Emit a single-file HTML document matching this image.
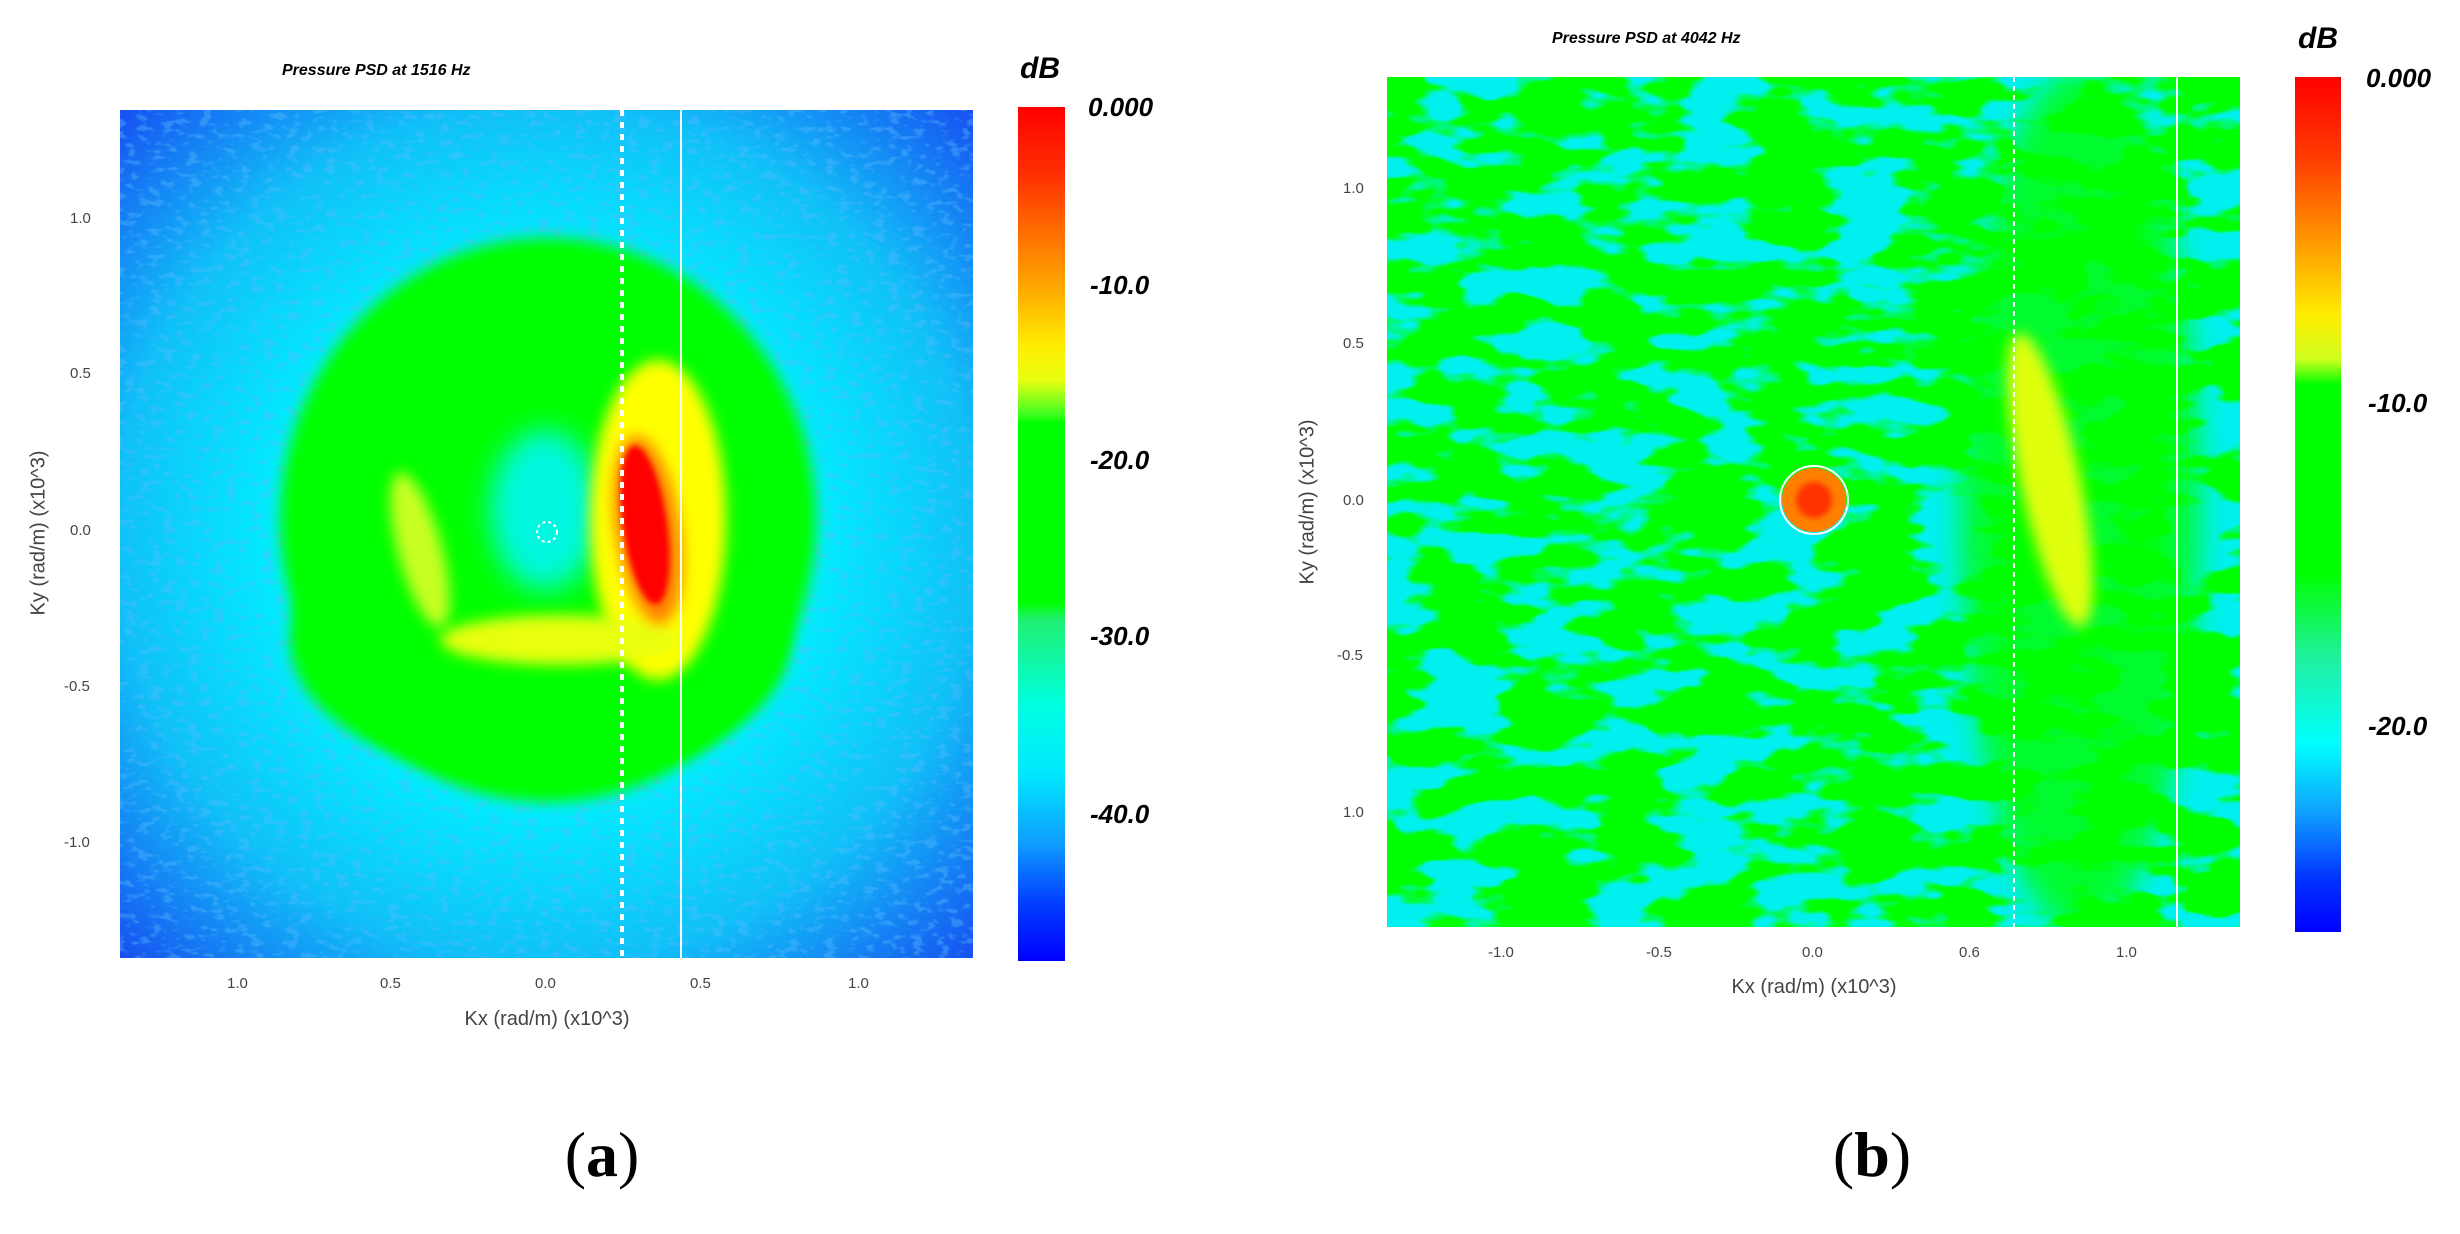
<!DOCTYPE html>
<html><head><meta charset="utf-8"><style>
html,body{margin:0;padding:0;background:#fff;}
body{width:2460px;height:1234px;position:relative;overflow:hidden;font-family:"Liberation Sans",sans-serif;}
.t{position:absolute;white-space:nowrap;}
</style></head><body>
<svg width="2460" height="1234" style="position:absolute;left:0;top:0">
<defs>
<radialGradient id="bgA" cx="0.5" cy="0.5" r="0.72">
<stop offset="0.42" stop-color="#00f0ff"/><stop offset="0.7" stop-color="#10c0f8"/><stop offset="1" stop-color="#1848f0"/></radialGradient>
<filter id="b20" x="-30%" y="-30%" width="160%" height="160%"><feGaussianBlur stdDeviation="14"/></filter>
<filter id="b8" x="-30%" y="-30%" width="160%" height="160%"><feGaussianBlur stdDeviation="7"/></filter>
<filter id="b4" x="-30%" y="-30%" width="160%" height="160%"><feGaussianBlur stdDeviation="3"/></filter>
<filter id="mot" x="0" y="0" width="100%" height="100%">
<feTurbulence type="fractalNoise" baseFrequency="0.012 0.03" numOctaves="3" seed="4"/>
<feColorMatrix type="matrix" values="0 0 0 0 0  0 0 0 0 1  0 0 0 0 0  0 0 0 -9 5.3"/>
<feComposite in2="SourceGraphic" operator="in"/>
</filter>
<filter id="noise" x="0" y="0" width="100%" height="100%">
<feTurbulence type="fractalNoise" baseFrequency="0.08 0.15" numOctaves="2" seed="9"/>
<feColorMatrix type="matrix" values="0 0 0 0 0.1  0 0 0 0 0.5  0 0 0 0 1  0 0 0 -6 2.8"/>
<feComposite in2="SourceGraphic" operator="in"/>
</filter>
<linearGradient id="cbA" x1="0" y1="0" x2="0" y2="1">
<stop offset="0" stop-color="#ff0000"/><stop offset="0.08" stop-color="#ff3000"/><stop offset="0.15" stop-color="#ff7000"/><stop offset="0.22" stop-color="#ffb000"/><stop offset="0.28" stop-color="#ffee00"/><stop offset="0.32" stop-color="#e8ff10"/><stop offset="0.36" stop-color="#40ff20"/><stop offset="0.37" stop-color="#00ff00"/><stop offset="0.58" stop-color="#00ff00"/><stop offset="0.6" stop-color="#20f070"/><stop offset="0.7" stop-color="#00ffe0"/><stop offset="0.78" stop-color="#00e8ff"/><stop offset="0.86" stop-color="#10a0ff"/><stop offset="0.93" stop-color="#0040ff"/><stop offset="1" stop-color="#0000ff"/></linearGradient>
<linearGradient id="cbB" x1="0" y1="0" x2="0" y2="1">
<stop offset="0" stop-color="#ff0000"/><stop offset="0.1" stop-color="#ff4000"/><stop offset="0.2" stop-color="#ffa000"/><stop offset="0.28" stop-color="#ffee00"/><stop offset="0.33" stop-color="#d0ff20"/><stop offset="0.36" stop-color="#00ff00"/><stop offset="0.58" stop-color="#00ff00"/><stop offset="0.68" stop-color="#20f0a0"/><stop offset="0.78" stop-color="#00ffff"/><stop offset="0.86" stop-color="#10a0ff"/><stop offset="0.94" stop-color="#0030ff"/><stop offset="1" stop-color="#0000ff"/></linearGradient>
<clipPath id="cA"><rect x="120" y="110" width="853" height="848"/></clipPath>
<clipPath id="cB"><rect x="1387" y="77" width="853" height="850"/></clipPath>
</defs>
<!-- Panel A -->
<g clip-path="url(#cA)">
<rect x="120" y="110" width="853" height="848" fill="url(#bgA)"/>
<rect x="120" y="110" width="853" height="848" fill="#000" filter="url(#noise)" opacity="0.4"/>
<ellipse cx="548" cy="520" rx="268" ry="282" fill="#00ff00" filter="url(#b8)"/>
<ellipse cx="540" cy="640" rx="250" ry="140" fill="#00ff00" filter="url(#b8)"/>
<ellipse cx="545" cy="510" rx="55" ry="80" fill="#00f8e0" filter="url(#b20)"/>
<ellipse cx="658" cy="520" rx="68" ry="160" fill="#ffff00" filter="url(#b8)"/>
<ellipse cx="560" cy="640" rx="120" ry="25" fill="#e8ff10" filter="url(#b8)"/>
<ellipse cx="420" cy="550" rx="22" ry="80" fill="#c8ff20" filter="url(#b8)" transform="rotate(-15 420 550)"/>
<ellipse cx="648" cy="530" rx="32" ry="95" fill="#ff8000" filter="url(#b8)" transform="rotate(-8 648 530)"/>
<ellipse cx="645" cy="525" rx="22" ry="80" fill="#ff0000" filter="url(#b4)" transform="rotate(-8 645 525)"/>
<line x1="622" y1="110" x2="622" y2="958" stroke="#fff" stroke-width="4" stroke-dasharray="6,6"/>
<line x1="681" y1="110" x2="681" y2="958" stroke="#f8fff8" stroke-width="2"/>
<circle cx="547" cy="532" r="10" fill="none" stroke="#fff" stroke-width="2" stroke-dasharray="3,3"/>
</g>
<rect x="1018" y="107" width="47" height="854" fill="url(#cbA)"/>
<!-- Panel B -->
<g clip-path="url(#cB)">
<rect x="1387" y="77" width="853" height="850" fill="#00f0f0"/>
<rect x="1387" y="77" width="853" height="850" fill="#00ff00" filter="url(#mot)"/>
<ellipse cx="2080" cy="500" rx="120" ry="430" fill="#00ff00" filter="url(#b20)" opacity="0.8"/>
<ellipse cx="2050" cy="480" rx="30" ry="150" fill="#e0ff10" filter="url(#b8)" transform="rotate(-12 2050 480)"/>
<circle cx="1814" cy="500" r="32" fill="#ff8000"/>
<circle cx="1814" cy="500" r="18" fill="#ff3000" filter="url(#b4)"/>
<circle cx="1814" cy="500" r="34" fill="none" stroke="#fff" stroke-width="2"/>
<line x1="2014" y1="77" x2="2014" y2="927" stroke="#fff" stroke-width="2" stroke-dasharray="5,4"/>
<line x1="2177" y1="77" x2="2177" y2="927" stroke="#fff" stroke-width="2"/>
</g>
<rect x="2295" y="77" width="46" height="855" fill="url(#cbB)"/>
</svg>
<!-- Panel A text -->
<div class="t" style="left:282px;top:62px;font-size:16px;font-weight:bold;font-style:italic;">Pressure PSD at 1516 Hz</div>
<div class="t" style="left:1020px;top:52px;font-size:30px;font-weight:bold;font-style:italic;">dB</div>
<div class="t" style="left:1088px;top:92px;font-size:26px;font-weight:bold;font-style:italic;">0.000</div>
<div class="t" style="left:1090px;top:270px;font-size:26px;font-weight:bold;font-style:italic;">-10.0</div>
<div class="t" style="left:1090px;top:445px;font-size:26px;font-weight:bold;font-style:italic;">-20.0</div>
<div class="t" style="left:1090px;top:621px;font-size:26px;font-weight:bold;font-style:italic;">-30.0</div>
<div class="t" style="left:1090px;top:799px;font-size:26px;font-weight:bold;font-style:italic;">-40.0</div>
<div class="t" style="left:70px;top:210px;font-size:15px;color:#444;">1.0</div>
<div class="t" style="left:70px;top:365px;font-size:15px;color:#444;">0.5</div>
<div class="t" style="left:70px;top:522px;font-size:15px;color:#444;">0.0</div>
<div class="t" style="left:64px;top:678px;font-size:15px;color:#444;">-0.5</div>
<div class="t" style="left:64px;top:834px;font-size:15px;color:#444;">-1.0</div>
<div class="t" style="left:227px;top:975px;font-size:15px;color:#444;">1.0</div>
<div class="t" style="left:380px;top:975px;font-size:15px;color:#444;">0.5</div>
<div class="t" style="left:535px;top:975px;font-size:15px;color:#444;">0.0</div>
<div class="t" style="left:690px;top:975px;font-size:15px;color:#444;">0.5</div>
<div class="t" style="left:848px;top:975px;font-size:15px;color:#444;">1.0</div>
<div class="t" style="left:547px;top:1008px;transform:translateX(-50%);font-size:20px;color:#444;">Kx (rad/m) (x10^3)</div>
<div class="t" style="left:39px;top:533px;transform:translate(-50%,-50%) rotate(-90deg);font-size:20px;color:#444;">Ky (rad/m) (x10^3)</div>
<div class="t" style="left:602px;top:1118px;transform:translateX(-50%);font-size:64px;font-family:'Liberation Serif',serif;">(<b>a</b>)</div>
<!-- Panel B text -->
<div class="t" style="left:1552px;top:30px;font-size:16px;font-weight:bold;font-style:italic;">Pressure PSD at 4042 Hz</div>
<div class="t" style="left:2298px;top:22px;font-size:30px;font-weight:bold;font-style:italic;">dB</div>
<div class="t" style="left:2366px;top:63px;font-size:26px;font-weight:bold;font-style:italic;">0.000</div>
<div class="t" style="left:2368px;top:388px;font-size:26px;font-weight:bold;font-style:italic;">-10.0</div>
<div class="t" style="left:2368px;top:711px;font-size:26px;font-weight:bold;font-style:italic;">-20.0</div>
<div class="t" style="left:1343px;top:180px;font-size:15px;color:#444;">1.0</div>
<div class="t" style="left:1343px;top:335px;font-size:15px;color:#444;">0.5</div>
<div class="t" style="left:1343px;top:492px;font-size:15px;color:#444;">0.0</div>
<div class="t" style="left:1337px;top:647px;font-size:15px;color:#444;">-0.5</div>
<div class="t" style="left:1343px;top:804px;font-size:15px;color:#444;">1.0</div>
<div class="t" style="left:1488px;top:944px;font-size:15px;color:#444;">-1.0</div>
<div class="t" style="left:1646px;top:944px;font-size:15px;color:#444;">-0.5</div>
<div class="t" style="left:1802px;top:944px;font-size:15px;color:#444;">0.0</div>
<div class="t" style="left:1959px;top:944px;font-size:15px;color:#444;">0.6</div>
<div class="t" style="left:2116px;top:944px;font-size:15px;color:#444;">1.0</div>
<div class="t" style="left:1814px;top:976px;transform:translateX(-50%);font-size:20px;color:#444;">Kx (rad/m) (x10^3)</div>
<div class="t" style="left:1308px;top:502px;transform:translate(-50%,-50%) rotate(-90deg);font-size:20px;color:#444;">Ky (rad/m) (x10^3)</div>
<div class="t" style="left:1872px;top:1118px;transform:translateX(-50%);font-size:64px;font-family:'Liberation Serif',serif;">(<b>b</b>)</div>
</body></html>
